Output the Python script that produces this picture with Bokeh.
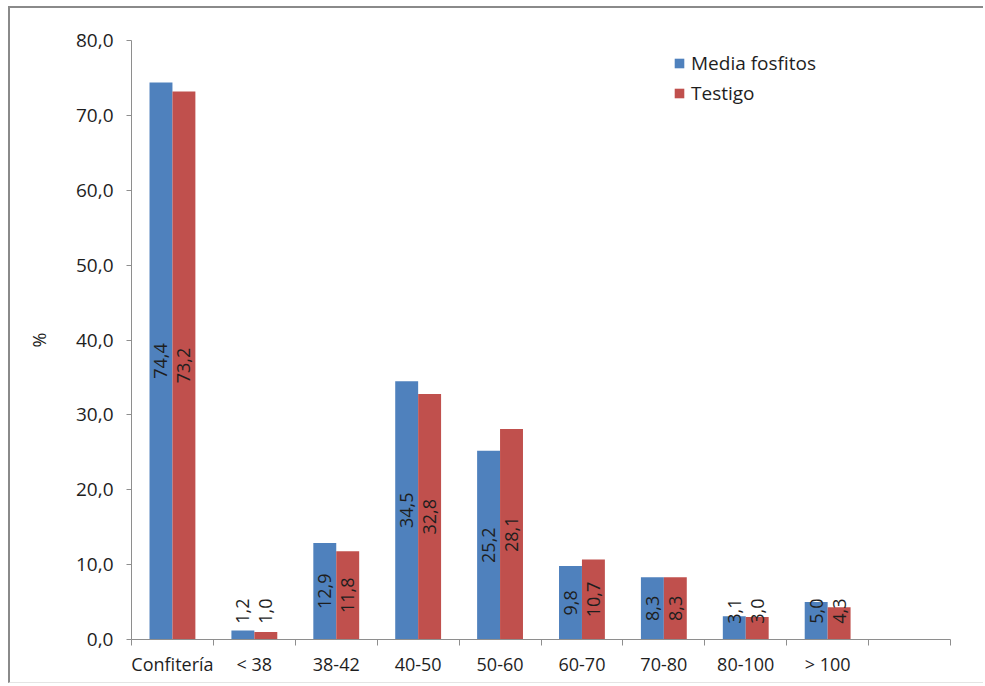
import math
from bokeh.plotting import figure
from bokeh.models import Range1d, FixedTicker, ColumnDataSource
from bokeh.core.properties import value
from bokeh.embed import file_html
from bokeh.resources import INLINE

# Size classes and the share (%) of each group
categories = ["Confitería", "< 38", "38-42", "40-50", "50-60", "60-70", "70-80", "80-100", "> 100", ""]
media_fosfitos = [74.4, 1.2, 12.9, 34.5, 25.2, 9.8, 8.3, 3.1, 5.0]
testigo = [73.2, 1.0, 11.8, 32.8, 28.1, 10.7, 8.3, 3.0, 4.3]
y_ticks = [0, 10, 20, 30, 40, 50, 60, 70, 80]

FONT = "Open Sans"
BLUE = "#4F81BD"
RED = "#C0504D"
AXIS = "#8E8E8E"
TEXT = "#1E1E1E"
BAR_W = 0.28


def fmt(v):
    return f"{v:.1f}".replace(".", ",")


p = figure(width=975, height=677, output_backend="svg", toolbar_location=None,
           x_range=Range1d(0, len(categories)), y_range=Range1d(0, 80),
           min_border_left=121, min_border_right=35, min_border_top=32,
           min_border_bottom=46)
p.styles = {"margin-left": "8px", "margin-top": "6px",
            "border-left": "2px solid #8A8A8A", "border-top": "2px solid #8A8A8A",
            "border-bottom": "1px solid #E4E4E4"}
p.outline_line_color = None
p.xgrid.visible = False
p.ygrid.visible = False
p.background_fill_color = "white"
p.border_fill_color = "white"

n = len(media_fosfitos)
centers = [i + 0.5 for i in range(n)]
x_blue = [c - BAR_W / 2 for c in centers]
x_red = [c + BAR_W / 2 for c in centers]

src_b = ColumnDataSource(dict(x=x_blue, top=media_fosfitos,
                              ly=[max(v / 2, 3.8) for v in media_fosfitos],
                              txt=[fmt(v) for v in media_fosfitos]))
src_r = ColumnDataSource(dict(x=x_red, top=testigo,
                              ly=[max(v / 2, 3.8) for v in testigo],
                              txt=[fmt(v) for v in testigo]))

p.vbar(x="x", top="top", bottom=0, width=BAR_W, source=src_b,
       fill_color=BLUE, line_color=None, legend_label="Media fosfitos")
p.vbar(x="x", top="top", bottom=0, width=BAR_W, source=src_r,
       fill_color=RED, line_color=None, legend_label="Testigo")

for src in (src_b, src_r):
    p.text(x="x", y="ly", text="txt", source=src, angle=math.pi / 2,
           text_align="center", text_baseline="middle",
           text_font=value(FONT), text_font_size="18px", text_color=TEXT)

# y axis
ya = p.yaxis[0]
ya.ticker = FixedTicker(ticks=y_ticks, minor_ticks=[])
ya.major_label_overrides = {t: fmt(t) for t in y_ticks}
ya.axis_line_color = AXIS
ya.major_tick_line_color = AXIS
ya.major_tick_out = 5
ya.major_tick_in = 0
ya.minor_tick_line_color = None
ya.major_label_text_font = FONT
ya.major_label_text_font_size = "19px"
ya.major_label_text_color = TEXT
ya.major_label_standoff = 13
ya.axis_label = "%"
ya.axis_label_text_font = FONT
ya.axis_label_text_font_size = "18px"
ya.axis_label_text_font_style = "normal"
ya.axis_label_text_color = TEXT
ya.axis_label_standoff = 22

# x axis: labels at class centres, ticks on class boundaries
xa = p.xaxis[0]
xa.ticker = FixedTicker(ticks=[i + 0.5 for i in range(len(categories))],
                        minor_ticks=list(range(len(categories) + 1)))
xa.major_label_overrides = {i + 0.5: c for i, c in enumerate(categories)}
xa.axis_line_color = AXIS
xa.major_tick_line_color = None
xa.major_tick_out = 0
xa.major_tick_in = 0
xa.minor_tick_line_color = AXIS
xa.minor_tick_out = 6
xa.minor_tick_in = 0
xa.major_label_text_font = FONT
xa.major_label_text_font_size = "18px"
xa.major_label_text_color = TEXT
xa.major_label_standoff = 6

lg = p.legend[0]
lg.location = (542, 533)
lg.padding = 0
lg.margin = 0
lg.spacing = 4
lg.border_line_color = None
lg.background_fill_alpha = 0
lg.glyph_width = 12
lg.glyph_height = 12
lg.label_standoff = 6
lg.label_height = 24
lg.label_text_font = FONT
lg.label_text_font_size = "19px"
lg.label_text_color = TEXT

open("out.html", "w").write(file_html(p, INLINE))
